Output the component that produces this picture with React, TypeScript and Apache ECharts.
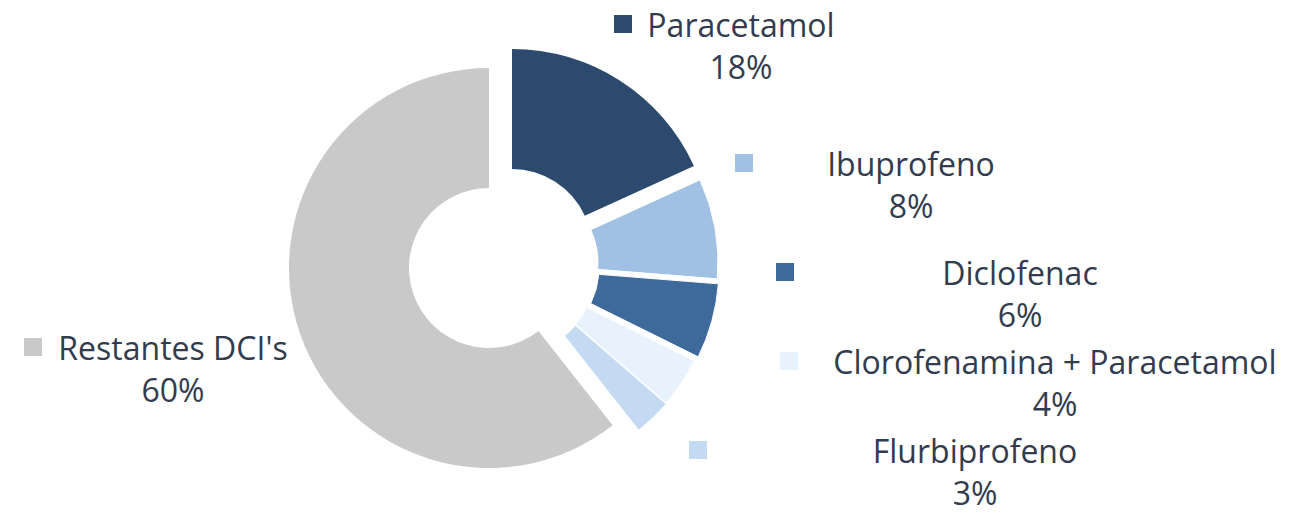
import React, { useEffect, useRef } from 'react';
import * as echarts from 'echarts';

const categories = ['Paracetamol', 'Ibuprofeno', 'Diclofenac', 'Clorofenamina + Paracetamol', 'Flurbiprofeno', "Restantes DCI's"];
const shares = [18, 8, 6, 4, 3, 60];
const colors = ['#2C4A6E', '#A0C0E4', '#3E699B', '#E8F2FD', '#C4DAF2', '#C9C9C9'];

// layout: pie centre and per-slice explosion offsets (px)
const PIE_CENTER = [489, 268];
const RADII = [80, 200];
const sliceOffsets = [
  [23, -19],
  [29, -5],
  [30, 0],
  [26, 4],
  [26, 5],
  [0, 0],
];
// label box layout: [centerX, centerY, boxWidth]
const labelBoxes = [
  [741, 45, 254],
  [911, 184, 352],
  [1020, 293, 488],
  [1055, 382, 550],
  [975, 471, 572],
  [173, 368, 298],
];

const FONT = "'Open Sans', sans-serif";
const TEXT_COLOR = '#323c4e';
const FONT_SIZE = 32;
const LINE_H = 42;
const CLEAR = 'rgba(0,0,0,0)';

export default function App() {
  const ref = useRef<HTMLDivElement>(null);
  useEffect(() => {
    if (!ref.current) return;
    const chart = echarts.init(ref.current, undefined, { renderer: 'svg' });
    const rich: any = {
      n: { fontSize: FONT_SIZE, fontFamily: FONT, color: TEXT_COLOR, lineHeight: LINE_H, align: 'center' },
      p: { fontSize: FONT_SIZE, fontFamily: FONT, color: TEXT_COLOR, lineHeight: LINE_H, align: 'center' },
      r: { width: 18, height: 18, lineHeight: LINE_H, align: 'right' },
    };
    colors.forEach((c, i) => {
      rich['m' + i] = { width: 18, height: 18, lineHeight: LINE_H, backgroundColor: c, align: 'left' };
    });

    // one series per slice so that each slice can be exploded by its own amount
    const sliceSeries = categories.map((_, k) => ({
      type: 'pie',
      center: [PIE_CENTER[0] + sliceOffsets[k][0], PIE_CENTER[1] + sliceOffsets[k][1]],
      radius: RADII,
      startAngle: 90,
      silent: true,
      label: { show: false },
      labelLine: { show: false },
      emphasis: { disabled: true },
      data: categories.map((name, i) => ({
        name,
        value: shares[i],
        itemStyle:
          i === k
            ? { color: colors[i], borderColor: '#ffffff', borderWidth: k === 0 || k === 5 ? 0 : 1 }
            : { color: CLEAR, borderWidth: 0 },
      })),
    }));

    const labelSeries = {
      type: 'pie',
      center: PIE_CENTER,
      radius: RADII,
      startAngle: 90,
      silent: true,
      avoidLabelOverlap: false,
      emphasis: { disabled: true },
      label: { show: true, position: 'outside', overflow: 'none', rich },
      labelLine: { show: false },
      labelLayout: (params: any) => {
        const b = labelBoxes[params.dataIndex];
        return { x: b[0], y: b[1], width: b[2], align: 'center', verticalAlign: 'middle' };
      },
      data: categories.map((name, i) => ({
        name,
        value: shares[i],
        itemStyle: { color: CLEAR, borderWidth: 0 },
        label: {
          show: true,
          width: labelBoxes[i][2],
          formatter: `{m${i}|}{n|${name}}{r|}\n{p|${shares[i]}%}`,
        },
      })),
    };

    chart.setOption({
      animation: false,
      series: [...sliceSeries, labelSeries],
    });
    return () => chart.dispose();
  }, []);
  return <div ref={ref} style={{ position: 'absolute', left: 0, top: 0, width: 1297, height: 515 }} />;
}
